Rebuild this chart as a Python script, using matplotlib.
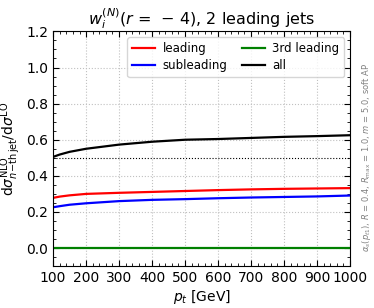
import numpy as np
import matplotlib.pyplot as plt

# transverse momentum grid [GeV]
pt = [100, 120, 150, 200, 300, 400, 500, 600, 700, 800, 900, 1000]

# ratios
leading = [0.278, 0.285, 0.292, 0.300, 0.306, 0.311, 0.316, 0.321, 0.325, 0.328, 0.330, 0.332]
subleading = [0.226, 0.232, 0.240, 0.248, 0.260, 0.267, 0.271, 0.276, 0.280, 0.283, 0.286, 0.291]
third = [0.0] * len(pt)
alle = [0.505, 0.518, 0.533, 0.550, 0.573, 0.589, 0.600, 0.604, 0.610, 0.616, 0.620, 0.625]

fig = plt.figure(figsize=(3.74, 3.08), dpi=100)
ax = fig.add_axes([0.142, 0.136, 0.794, 0.762])

ax.plot(pt, leading, color="red", lw=1.6, label="leading")
ax.plot(pt, subleading, color="blue", lw=1.6, label="subleading")
ax.plot(pt, third, color="green", lw=1.6, label="3rd leading")
ax.plot(pt, alle, color="black", lw=1.6, label="all")
ax.axhline(0.5, color="black", ls=":", lw=0.8)

ax.set_xlim(100, 1000)
ax.set_ylim(-0.1, 1.2)
ax.set_xticks(np.arange(100, 1001, 100))
ax.set_yticks(np.arange(0.0, 1.21, 0.2))
ax.set_xticks(np.arange(100, 1001, 20), minor=True)
ax.set_yticks(np.arange(-0.1, 1.21, 0.05), minor=True)
ax.tick_params(which="both", direction="in", top=True, right=True, labelsize=10)
ax.tick_params(which="major", length=4)
ax.tick_params(which="minor", length=2)
ax.grid(True, ls=":", color="#c0c0c0", lw=0.8)

ax.set_xlabel(r"$p_t$ [GeV]", fontsize=10, labelpad=2)
ax.set_ylabel(r"d$\sigma^{\rm NLO}_{n\!-\!{\rm th\,jet}}$/d$\sigma^{\rm LO}$", fontsize=10, labelpad=2)
ax.set_title(r"$w_i^{(N)}(r\,=\,-\,4)$, 2 leading jets", fontsize=11.5, pad=4)

ax.legend(ncol=2, fontsize=8.5, loc="upper right", handlelength=2.0,
          columnspacing=1.2, handletextpad=0.6, borderpad=0.4,
          labelspacing=0.35, framealpha=0.8)

fig.text(0.979, 0.49, r"$\alpha_s(p_{t1})$, $R$ = 0.4, $R_{\rm max}$ = 1.0, $m$ = 5.0, soft AP",
         rotation=90, fontsize=6, color="gray", ha="center", va="center")

fig.savefig("out.png", dpi=100)
